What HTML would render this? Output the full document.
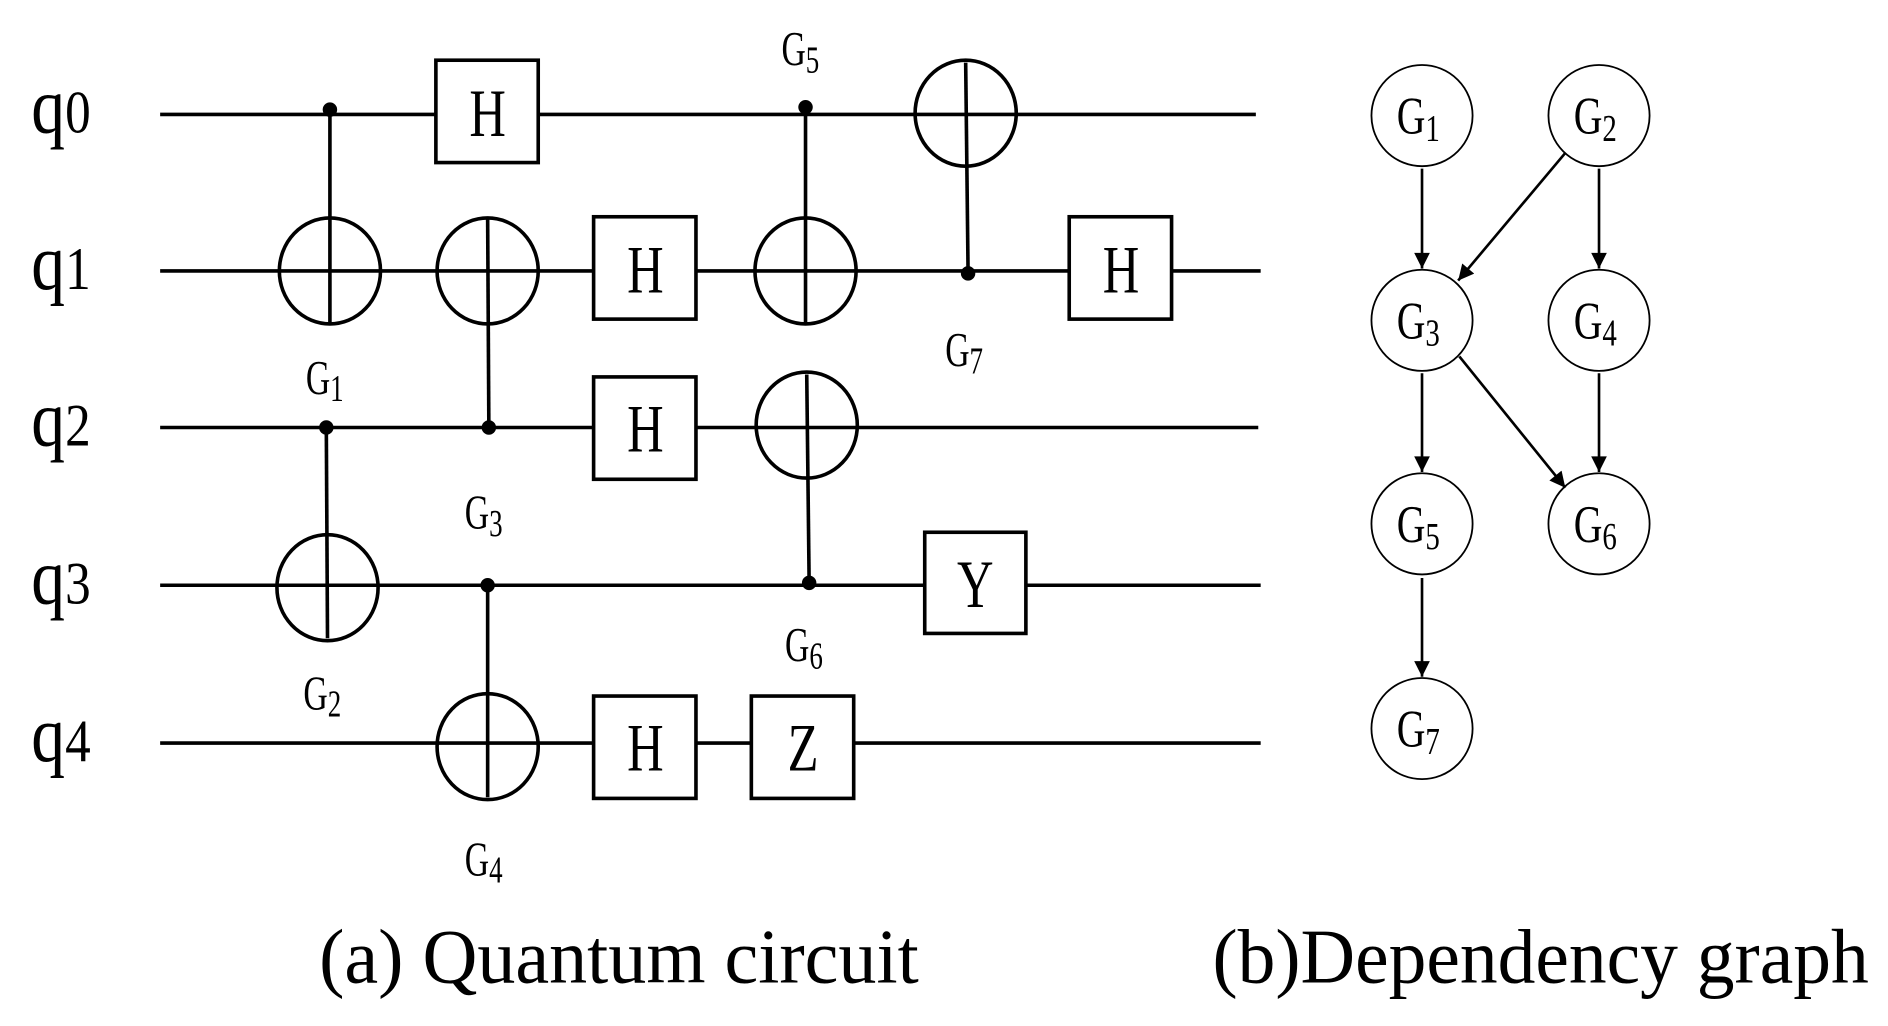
<!DOCTYPE html>
<html><head><meta charset="utf-8"><style>html,body{margin:0;padding:0;background:#fff}svg{display:block}</style></head>
<body>
<svg width="1888" height="1026" viewBox="0 0 1568 852" preserveAspectRatio="none" xmlns="http://www.w3.org/2000/svg" font-family="Liberation Serif, serif">
<defs>
<marker id="a2" viewBox="0 0 10 10" refX="10" refY="5" markerWidth="18" markerHeight="13" markerUnits="userSpaceOnUse" orient="auto"><path d="M0,0 L10,5 L0,10 z" fill="#000"/></marker></defs>
<g stroke="#000" stroke-width="3" fill="none">
<line x1="133" y1="95" x2="1043" y2="95"/>
<line x1="133" y1="225" x2="1047" y2="225"/>
<line x1="133" y1="355" x2="1045" y2="355"/>
<line x1="133" y1="486" x2="1047" y2="486"/>
<line x1="133" y1="617" x2="1047" y2="617"/>
<line x1="274" y1="91" x2="274" y2="268"/><ellipse cx="274" cy="225" rx="42" ry="44"/>
<line x1="405" y1="182" x2="406" y2="355"/><ellipse cx="405" cy="225" rx="42" ry="44"/>
<line x1="669" y1="89" x2="669" y2="268"/><ellipse cx="669" cy="225" rx="42" ry="44"/>
<line x1="802" y1="52" x2="804" y2="227"/><ellipse cx="802" cy="94" rx="42" ry="44"/>
<line x1="271" y1="355" x2="272" y2="530"/><ellipse cx="272" cy="488" rx="42" ry="44"/>
<line x1="670" y1="311" x2="672" y2="484"/><ellipse cx="670" cy="353" rx="42" ry="44"/>
<line x1="405" y1="486" x2="405" y2="662"/><ellipse cx="405" cy="620" rx="42" ry="44"/>
</g>
<g fill="#000"><circle cx="274" cy="91" r="6"/><circle cx="406" cy="355" r="6"/><circle cx="669" cy="89" r="6"/><circle cx="804" cy="227" r="6"/><circle cx="271" cy="355" r="6"/><circle cx="672" cy="484" r="6"/><circle cx="405" cy="486" r="6"/></g>
<g stroke="#000" stroke-width="3" fill="#fff">
<rect x="362" y="50" width="85" height="85"/>
<rect x="493" y="180" width="85" height="85"/>
<rect x="888" y="180" width="85" height="85"/>
<rect x="493" y="313" width="85" height="85"/>
<rect x="768" y="442" width="84" height="84"/>
<rect x="493" y="578" width="85" height="85"/>
<rect x="624" y="578" width="85" height="85"/>
</g>
<g font-size="56" text-anchor="middle" fill="#000">
<text transform="translate(405,113) scale(0.75,1)">H</text>
<text transform="translate(536,243) scale(0.75,1)">H</text>
<text transform="translate(931,243) scale(0.75,1)">H</text>
<text transform="translate(536,375) scale(0.75,1)">H</text>
<text transform="translate(810,504) scale(0.75,1)">Y</text>
<text transform="translate(536,640) scale(0.75,1)">H</text>
<text transform="translate(667,640) scale(0.75,1)">Z</text>
</g>
<g font-size="66" fill="#000">
<text transform="translate(26,110) scale(0.85,1)">q<tspan font-size="50">0</tspan></text>
<text transform="translate(26,240) scale(0.85,1)">q<tspan font-size="50">1</tspan></text>
<text transform="translate(26,370) scale(0.85,1)">q<tspan font-size="50">2</tspan></text>
<text transform="translate(26,501) scale(0.85,1)">q<tspan font-size="50">3</tspan></text>
<text transform="translate(26,632) scale(0.85,1)">q<tspan font-size="50">4</tspan></text>
</g>
<g font-size="40" fill="#000">
<text transform="translate(254,327) scale(0.7,1)">G<tspan font-size="32" dy="6">1</tspan></text>
<text transform="translate(386,439) scale(0.7,1)">G<tspan font-size="32" dy="6">3</tspan></text>
<text transform="translate(649,54) scale(0.7,1)">G<tspan font-size="32" dy="6">5</tspan></text>
<text transform="translate(785,304) scale(0.7,1)">G<tspan font-size="32" dy="6">7</tspan></text>
<text transform="translate(252,589) scale(0.7,1)">G<tspan font-size="32" dy="6">2</tspan></text>
<text transform="translate(652,549) scale(0.7,1)">G<tspan font-size="32" dy="6">6</tspan></text>
<text transform="translate(386,727) scale(0.7,1)">G<tspan font-size="32" dy="6">4</tspan></text>
</g>
<g stroke="#000" stroke-width="1.5" fill="none">
<circle cx="1181" cy="96" r="42"/><circle cx="1328" cy="96" r="42"/>
<circle cx="1181" cy="266" r="42"/><circle cx="1328" cy="266" r="42"/>
<circle cx="1181" cy="435" r="42"/><circle cx="1328" cy="435" r="42"/>
<circle cx="1181" cy="605" r="42"/>
</g>
<g stroke="#000" stroke-width="2.2" marker-end="url(#a2)">
<line x1="1181" y1="140" x2="1181" y2="223"/>
<line x1="1300" y1="127" x2="1211" y2="233"/>
<line x1="1328" y1="140" x2="1328" y2="223"/>
<line x1="1181" y1="310" x2="1181" y2="392"/>
<line x1="1212" y1="296" x2="1300" y2="405"/>
<line x1="1328" y1="310" x2="1328" y2="392"/>
<line x1="1181" y1="480" x2="1181" y2="562"/>
</g>
<g font-size="44" fill="#000">
<text transform="translate(1160,111) scale(0.75,1)">G<tspan font-size="32" dy="6">1</tspan></text>
<text transform="translate(1307,111) scale(0.75,1)">G<tspan font-size="32" dy="6">2</tspan></text>
<text transform="translate(1160,281) scale(0.75,1)">G<tspan font-size="32" dy="6">3</tspan></text>
<text transform="translate(1307,281) scale(0.75,1)">G<tspan font-size="32" dy="6">4</tspan></text>
<text transform="translate(1160,450) scale(0.75,1)">G<tspan font-size="32" dy="6">5</tspan></text>
<text transform="translate(1307,450) scale(0.75,1)">G<tspan font-size="32" dy="6">6</tspan></text>
<text transform="translate(1160,620) scale(0.75,1)">G<tspan font-size="32" dy="6">7</tspan></text>
</g>
<g font-size="64" fill="#000">
<text x="265" y="816" textLength="498" lengthAdjust="spacingAndGlyphs">(a) Quantum circuit</text>
<text x="1007" y="816" textLength="545" lengthAdjust="spacingAndGlyphs">(b)Dependency graph</text>
</g>
</svg>
</body></html>
